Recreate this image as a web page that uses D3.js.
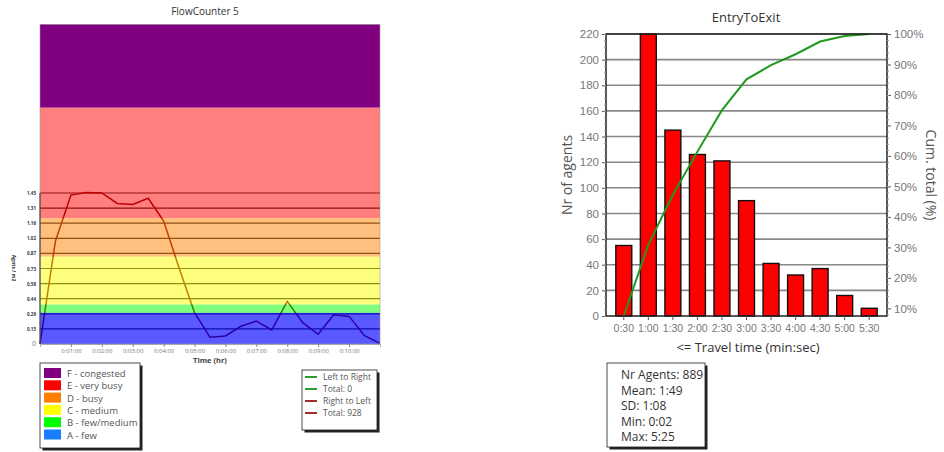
<!DOCTYPE html>
<html>
<head>
<meta charset="utf-8">
<script src="https://cdn.jsdelivr.net/npm/d3@7"></script>
<style>
  body { margin: 0; background: #fff; }
  svg { font-family: "Open Sans", "DejaVu Sans", sans-serif; }
</style>
</head>
<body>
<svg id="chart" width="944" height="452"></svg>
<script>
// ---- left chart data: FlowCounter 5 ----
const flowTimes = [0, 30, 60, 90, 120, 150, 180, 210, 240, 270, 300, 330, 360, 390, 420, 450, 480, 510, 540, 570, 600, 630, 660];
const flowDensity = [0, 0.99, 1.43, 1.455, 1.45, 1.35, 1.34, 1.40, 1.18, 0.73, 0.30, 0.064, 0.077, 0.17, 0.22, 0.135, 0.41, 0.205, 0.093, 0.28, 0.265, 0.08, 0.006];
const densityTicks = [0, 0.145, 0.29, 0.435, 0.58, 0.725, 0.87, 1.015, 1.16, 1.305, 1.45];
const densityLabels = ['0', '0.15', '0.29', '0.44', '0.58', '0.73', '0.87', '1.02', '1.16', '1.31', '1.45'];
const timeTicks = [60, 120, 180, 240, 300, 360, 420, 480, 540, 600];
const timeLabels = ['0:01:00', '0:02:00', '0:03:00', '0:04:00', '0:05:00', '0:06:00', '0:07:00', '0:08:00', '0:09:00', '0:10:00'];
const levelNames = ['A - few', 'B - few/medium', 'C - medium', 'D - busy', 'E - very busy', 'F - congested'];
const levelBounds = [0, 0.30, 0.38, 0.84, 1.21, 2.27, 3.07];
const levelColors = ['#0000ff', '#00ff00', '#ffff00', '#ff8000', '#ff0000', '#800080'];
const legendColors = ['#1a7cff', '#00ff00', '#ffff00', '#ff8000', '#ff0000', '#800080'];
const flowLegend = ['Left to Right', 'Total: 0', 'Right to Left', 'Total: 928'];
const flowLegendColors = ['#2ca02c', '#2ca02c', '#a02c2c', '#a02c2c'];

// ---- right chart data: EntryToExit ----
const travelBins = ['0:30', '1:00', '1:30', '2:00', '2:30', '3:00', '3:30', '4:00', '4:30', '5:00', '5:30'];
const agentCounts = [55, 220, 145, 126, 121, 90, 41, 32, 37, 16, 6];
const countTicks = [0, 20, 40, 60, 80, 100, 120, 140, 160, 180, 200, 220];
const pctTicks = [10, 20, 30, 40, 50, 60, 70, 80, 90, 100];
const stats = ['Nr Agents: 889', 'Mean: 1:49', 'SD: 1:08', 'Min: 0:02', 'Max: 5:25'];

const svg = d3.select('#chart');

// ================= LEFT =================
const xL = d3.scaleLinear().domain([0, 660]).range([40, 380]);
const yL = d3.scaleLinear().domain([0, 1.45]).range([344, 193]);
const left = svg.append('g');

left.append('text').attr('x', 205).attr('y', 15).attr('text-anchor', 'middle')
  .style('font-size', '10px').style('fill', '#333').text('FlowCounter 5');

// gridlines (under bands)
left.selectAll('.grid').data(densityTicks.slice(1)).enter().append('line')
  .attr('x1', xL(0)).attr('x2', xL(660))
  .attr('y1', d => yL(d)).attr('y2', d => yL(d))
  .style('stroke', '#222').style('stroke-width', 1.2);

// the density line (under translucent bands)
const line = d3.line().x((d, i) => xL(flowTimes[i])).y(d => yL(d));
left.append('path').datum(flowDensity).attr('d', line)
  .style('fill', 'none').style('stroke', '#7a0000').style('stroke-width', 1.5);

// level of service bands
left.selectAll('.band').data(levelColors).enter().append('rect')
  .attr('x', xL(0)).attr('width', xL(660) - xL(0))
  .attr('y', (d, i) => yL(levelBounds[i + 1]))
  .attr('height', (d, i) => yL(levelBounds[i]) - yL(levelBounds[i + 1]))
  .style('fill', d => d)
  .style('fill-opacity', (d, i) => i === 5 ? 1 : (i === 0 ? 0.65 : 0.5));

left.append('rect').attr('x', xL(0)).attr('y', yL(levelBounds[6]))
  .attr('width', xL(660) - xL(0)).attr('height', yL(0) - yL(levelBounds[6]))
  .style('fill', 'none').style('stroke', '#999').style('stroke-width', 0.6);
left.append('line').attr('x1', xL(0)).attr('x2', xL(0)).attr('y1', yL(1.45)).attr('y2', yL(0))
  .style('stroke', '#333').style('stroke-width', 1);

// y tick labels
left.selectAll('.ytl').data(densityTicks).enter().append('text')
  .attr('x', 36).attr('y', d => yL(d) + 2).attr('text-anchor', 'end')
  .style('font-size', (d, i) => i === 0 ? '7px' : '4.5px')
  .style('font-weight', (d, i) => i === 0 ? 'normal' : 'bold')
  .style('fill', (d, i) => i === 0 ? '#777' : '#333')
  .text((d, i) => densityLabels[i]);
left.append('text').attr('transform', 'translate(12,268) rotate(90)')
  .attr('text-anchor', 'middle').style('font-size', '5px').style('font-weight', 'bold')
  .style('fill', '#333').text('Agnts / m2');

// x axis
const xAxisL = d3.axisBottom(xL).tickValues(timeTicks).tickSize(3)
  .tickFormat((d, i) => timeLabels[i]);
const gxL = left.append('g').attr('transform', `translate(0,${yL(0)})`).call(xAxisL);
gxL.select('.domain').style('stroke', '#aaa');
gxL.selectAll('line').style('stroke', '#888');
gxL.selectAll('text').style('font-size', '6px').style('fill', '#777').attr('y', 4).attr('dy', '0.8em')
  .style('font-family', '"Open Sans", sans-serif');
left.append('text').attr('x', 210).attr('y', 363).attr('text-anchor', 'middle')
  .style('font-size', '7.5px').style('font-weight', 'bold').style('fill', '#444').text('Time (hr)');

// level legend
function box(g, x, y, w, h) {
  g.append('rect').attr('x', x + 2.5).attr('y', y + 2.5).attr('width', w).attr('height', h).style('fill', '#222');
  g.append('rect').attr('x', x).attr('y', y).attr('width', w).attr('height', h)
    .style('fill', '#fff').style('stroke', '#222').style('stroke-width', 0.8);
}
box(left, 40, 363, 100, 85);
const levelRows = levelNames.slice().reverse();
const levelSw = legendColors.slice().reverse();
left.selectAll('.lsw').data(levelRows).enter().append('rect')
  .attr('x', 44).attr('y', (d, i) => 368 + i * 12.3).attr('width', 17).attr('height', 10)
  .style('fill', (d, i) => levelSw[i]);
left.selectAll('.ltx').data(levelRows).enter().append('text')
  .attr('x', 67).attr('y', (d, i) => 377 + i * 12.3)
  .style('font-size', '9.5px').style('fill', '#555').text(d => d);

box(left, 302, 370, 75, 60);
left.selectAll('.fsw').data(flowLegend).enter().append('line')
  .attr('x1', 305).attr('x2', 317)
  .attr('y1', (d, i) => 377 + i * 12).attr('y2', (d, i) => 377 + i * 12)
  .style('stroke', (d, i) => flowLegendColors[i]).style('stroke-width', 2);
left.selectAll('.ftx').data(flowLegend).enter().append('text')
  .attr('x', 323).attr('y', (d, i) => 380 + i * 12)
  .style('font-size', '8.5px').style('fill', '#555').text(d => d);

// ================= RIGHT =================
const right = svg.append('g');
const xR = d3.scaleBand().domain(travelBins).range([606, 887]).paddingInner(0.35).paddingOuter(0.4);
const yR = d3.scaleLinear().domain([0, 220]).range([316, 34]);
const yP = d3.scaleLinear().domain([7.5, 100]).range([316, 34]).clamp(true);

right.append('text').attr('x', 746).attr('y', 22).attr('text-anchor', 'middle')
  .style('font-size', '13px').style('fill', '#333').text('EntryToExit');

right.selectAll('.grid').data(countTicks.slice(1)).enter().append('line')
  .attr('x1', 606).attr('x2', 887).attr('y1', d => yR(d)).attr('y2', d => yR(d))
  .style('stroke', '#888').style('stroke-width', 1.6);

right.selectAll('.bar').data(agentCounts).enter().append('rect')
  .attr('x', (d, i) => xR(travelBins[i])).attr('width', xR.bandwidth())
  .attr('y', d => yR(d)).attr('height', d => yR(0) - yR(d))
  .style('fill', '#ff0000').style('stroke', '#111').style('stroke-width', 1.4);

// cumulative percentage
const totalAgents = d3.sum(agentCounts);
const cumPct = d3.cumsum(agentCounts).map(v => v / totalAgents * 100);
const cumLine = d3.line().x((d, i) => xR(travelBins[i]) + xR.bandwidth() / 2).y(d => yP(d));
right.append('path').datum(Array.from(cumPct)).attr('d', cumLine)
  .style('fill', 'none').style('stroke', '#1f9a1f').style('stroke-width', 2);

right.append('rect').attr('x', 606).attr('y', 34).attr('width', 281).attr('height', 282)
  .style('fill', 'none').style('stroke', '#222').style('stroke-width', 1.5);

// left axis
const gyR = right.append('g').attr('transform', 'translate(606,0)')
  .call(d3.axisLeft(yR).tickValues(countTicks).tickSize(4));
right.append('g').attr('transform', 'translate(606,0)')
  .call(d3.axisLeft(yR).ticks(44).tickSize(2).tickFormat(''))
  .call(g => g.select('.domain').remove()).selectAll('line').style('stroke', '#999');
gyR.select('.domain').remove();
gyR.selectAll('line').style('stroke', '#555');
gyR.selectAll('text').style('font-size', '11.5px').style('fill', '#777');

// right axis
const gyP = right.append('g').attr('transform', 'translate(887,0)')
  .call(d3.axisRight(yP).tickValues(pctTicks).tickSize(4).tickFormat(d => d + '%'));
right.append('g').attr('transform', 'translate(887,0)')
  .call(d3.axisRight(yP).tickValues(d3.range(8, 100, 2)).tickSize(2).tickFormat(''))
  .call(g => g.select('.domain').remove()).selectAll('line').style('stroke', '#999');
gyP.select('.domain').remove();
gyP.selectAll('line').style('stroke', '#555');
gyP.selectAll('text').style('font-size', '11.5px').style('fill', '#777');

// x axis
const gxR = right.append('g').attr('transform', 'translate(0,316)')
  .call(d3.axisBottom(xR).tickSize(4));
gxR.select('.domain').remove();
gxR.selectAll('line').style('stroke', '#555');
gxR.selectAll('text').style('font-size', '10.5px').style('fill', '#777').attr('dy', '0.9em');

right.append('text').attr('x', 748).attr('y', 352).attr('text-anchor', 'middle')
  .style('font-size', '13px').style('fill', '#333').text('<= Travel time (min:sec)');
right.append('text').attr('transform', 'translate(572,175) rotate(-90)').attr('text-anchor', 'middle')
  .style('font-size', '14px').style('fill', '#555').text('Nr of agents');
right.append('text').attr('transform', 'translate(926,175) rotate(90)').attr('text-anchor', 'middle')
  .style('font-size', '14px').style('fill', '#555').text('Cum. total (%)');

// stats box
box(right, 607, 363, 98, 84);
right.selectAll('.st').data(stats).enter().append('text')
  .attr('x', 621).attr('y', (d, i) => 379 + i * 15.5)
  .style('font-size', '12px').style('fill', '#333').text(d => d);
</script>
</body>
</html>
